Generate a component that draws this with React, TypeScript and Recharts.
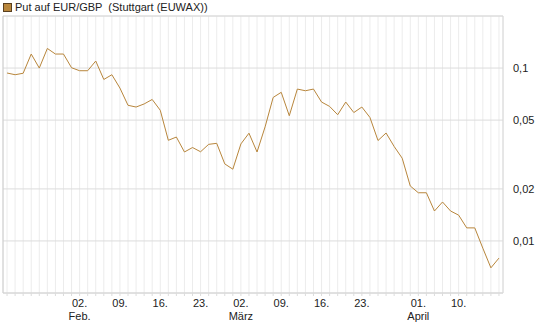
import React from 'react';
import { LineChart, Line, XAxis, YAxis, CartesianGrid, ReferenceLine } from 'recharts';

const dates = [
  '2026-01-20', '2026-01-21', '2026-01-22', '2026-01-23', '2026-01-26', '2026-01-27', '2026-01-28', '2026-01-29', '2026-01-30',
  '2026-02-02', '2026-02-03', '2026-02-04', '2026-02-05', '2026-02-06',
  '2026-02-09', '2026-02-10', '2026-02-11', '2026-02-12', '2026-02-13',
  '2026-02-16', '2026-02-17', '2026-02-18', '2026-02-19', '2026-02-20',
  '2026-02-23', '2026-02-24', '2026-02-25', '2026-02-26', '2026-02-27',
  '2026-03-02', '2026-03-03', '2026-03-04', '2026-03-05', '2026-03-06',
  '2026-03-09', '2026-03-10', '2026-03-11', '2026-03-12', '2026-03-13',
  '2026-03-16', '2026-03-17', '2026-03-18', '2026-03-19', '2026-03-20',
  '2026-03-23', '2026-03-24', '2026-03-25', '2026-03-26', '2026-03-27',
  '2026-03-30', '2026-03-31', '2026-04-01', '2026-04-02',
  '2026-04-07', '2026-04-08', '2026-04-09', '2026-04-10',
  '2026-04-13', '2026-04-14', '2026-04-15', '2026-04-16', '2026-04-17',
];

const values = [
  0.0936, 0.0915, 0.0933, 0.1205, 0.1, 0.1298, 0.1205, 0.1205, 0.1004,
  0.0965, 0.0965, 0.1098, 0.0859, 0.0915,
  0.0766, 0.0609, 0.0595, 0.062, 0.0658,
  0.057, 0.0382, 0.0399, 0.0327, 0.0347,
  0.0328, 0.0362, 0.0367, 0.0279, 0.026,
  0.0364, 0.042, 0.0327, 0.0457, 0.0676,
  0.0724, 0.053, 0.0756, 0.0739, 0.0756,
  0.0636, 0.06, 0.0537, 0.0636, 0.0553,
  0.0595, 0.0518, 0.0381, 0.0421, 0.0352,
  0.0301, 0.0208, 0.019, 0.019,
  0.0149, 0.0168, 0.0149, 0.0141,
  0.0119, 0.0119, 0.00908, 0.00699, 0.00796,
];

const tickDates = ['2026-02-02', '2026-02-09', '2026-02-16', '2026-02-23', '2026-03-02', '2026-03-09', '2026-03-16', '2026-03-23', '2026-04-01', '2026-04-10'];
const tickDayLabels = ['02.', '09.', '16.', '23.', '02.', '09.', '16.', '23.', '01.', '10.'];
const tickMonthLabels = ['Feb.', '', '', '', 'März', '', '', '', 'April', ''];

const yTicks = [0.01, 0.02, 0.05, 0.1];
const yTickLabels = ['0,01', '0,02', '0,05', '0,1'];

const seriesName = 'Put auf EUR/GBP  (Stuttgart (EUWAX))';

const data = values.map((v, i) => ({ i, date: dates[i], v }));
const allIdx = dates.map((_, i) => i);

const FONT = '"Liberation Sans", Arial, sans-serif';

const XTick = (props: any) => {
  const { x, y, payload } = props;
  const k = tickDates.indexOf(dates[payload.value]);
  if (k < 0) return null;
  return (
    <g>
      <text x={x} y={y} dy={9} textAnchor="middle" fontSize={11} fill="#222" fontFamily={FONT}>
        {tickDayLabels[k]}
      </text>
      {tickMonthLabels[k] ? (
        <text x={x} y={y} dy={22} textAnchor="middle" fontSize={11} fill="#222" fontFamily={FONT}>
          {tickMonthLabels[k]}
        </text>
      ) : null}
    </g>
  );
};

const YTick = (props: any) => {
  const { x, y, payload } = props;
  const k = yTicks.indexOf(payload.value);
  return (
    <text x={x} y={y} dy={4} textAnchor="start" fontSize={11} fill="#222" fontFamily={FONT}>
      {k >= 0 ? yTickLabels[k] : ''}
    </text>
  );
};

export default function App() {
  return (
    <div style={{ position: 'absolute', left: 0, top: 0, width: 545, height: 327, background: '#fff', fontFamily: FONT }}>
      <div style={{ position: 'absolute', left: 3, top: 3, width: 7, height: 7, background: '#b8863c', border: '1px solid #5a4020' }} />
      <div style={{ position: 'absolute', left: 15, top: 0, fontSize: 11, lineHeight: '14px', color: '#222', whiteSpace: 'pre' }}>
        {seriesName}
      </div>
      <LineChart width={545} height={327} data={data} margin={{ top: 16, right: 0, left: 3, bottom: 0 }}>
        <CartesianGrid horizontal={false} stroke="#ececec" />
        <CartesianGrid vertical={false} stroke="#dcdcdc" horizontalPoints={undefined} />
        <XAxis
          dataKey="i"
          type="number"
          domain={[-0.5, 61.5]}
          ticks={allIdx}
          interval={0}
          allowDataOverflow
          height={34}
          tickSize={3}
          tickMargin={2}
          tickLine={{ stroke: '#dcdcdc' }}
          axisLine={{ stroke: '#d4d4d4' }}
          tick={<XTick />}
        />
        <YAxis
          orientation="right"
          scale="log"
          domain={[0.005, 0.2]}
          allowDataOverflow
          ticks={yTicks}
          interval={0}
          width={42}
          tickLine={false}
          tickMargin={4}
          axisLine={{ stroke: '#d8d8d8' }}
          tick={<YTick />}
        />
        <ReferenceLine y={0.2} stroke="#dcdcdc" ifOverflow="visible" />
        <ReferenceLine x={-0.5} stroke="#cccccc" ifOverflow="visible" />
        <Line
          type="linear"
          dataKey="v"
          stroke="#b8863c"
          strokeWidth={1}
          dot={false}
          isAnimationActive={false}
        />
      </LineChart>
    </div>
  );
}
